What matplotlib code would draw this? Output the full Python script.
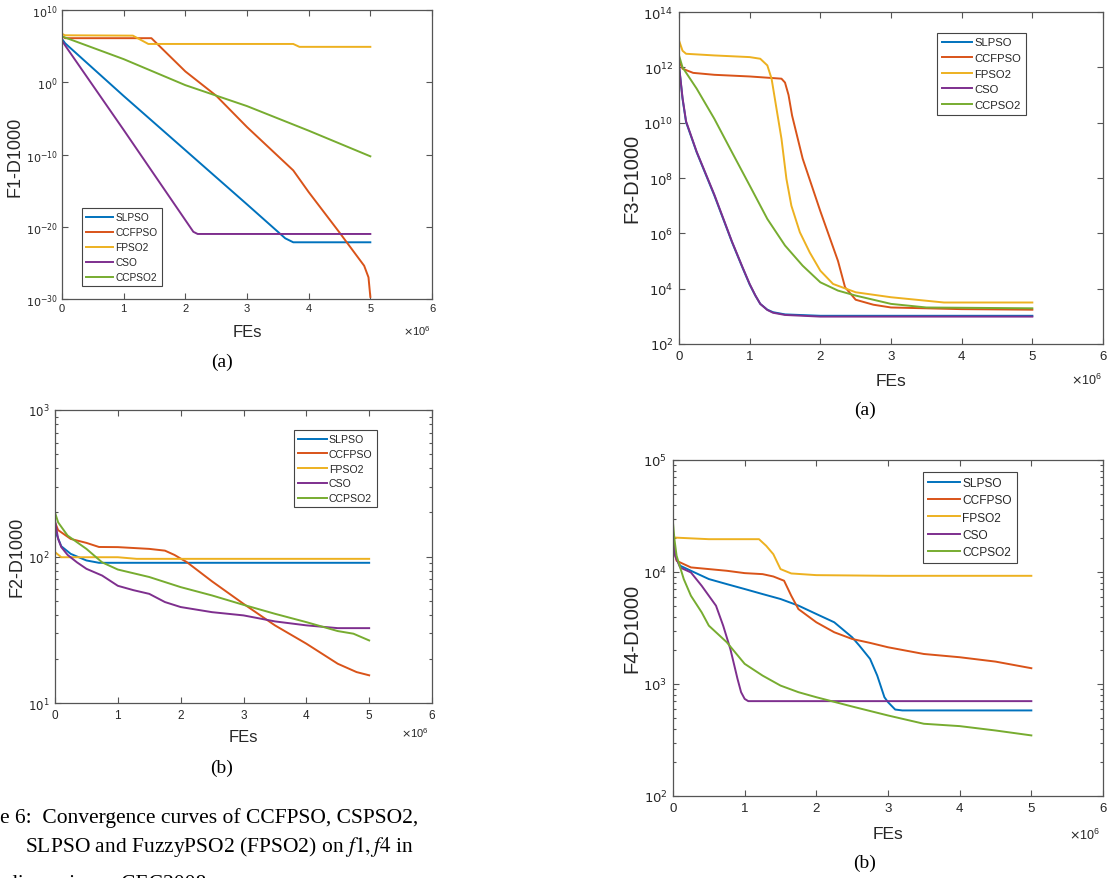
import numpy as np
import matplotlib
matplotlib.use("Agg")
import matplotlib.pyplot as plt
from matplotlib.ticker import LogLocator, NullLocator, FixedLocator

plt.rcParams['font.family'] = ['Liberation Sans', 'DejaVu Sans']

# ---------------- data (x in 1e6 FEs, y as log10 of fitness) ----------------
names = ["SLPSO", "CCFPSO", "FPSO2", "CSO", "CCPSO2"]
colors = ["#0072BD", "#D95319", "#EDB120", "#7E2F8E", "#77AC30"]

# F1
f1_slpso_x = [0, 0.05, 1.0, 2.0, 3.0, 3.62, 3.75, 5.0]
f1_slpso_y = [6.0, 5.4, -1.9, -9.4, -16.9, -21.6, -22.15, -22.15]
f1_ccfpso_x = [0, 0.05, 1.0, 1.45, 2.0, 2.5, 3.0, 3.5, 3.75, 4.0, 4.5, 4.9, 4.97, 5.0]
f1_ccfpso_y = [6.4, 6.1, 6.1, 6.1, 1.5, -1.86, -6.2, -10.2, -12.2, -15.2, -20.8, -25.4, -27.0, -29.7]
f1_fpso2_x = [0, 0.05, 1.15, 1.4, 3.75, 3.85, 5.0]
f1_fpso2_y = [6.7, 6.5, 6.45, 5.3, 5.3, 4.9, 4.9]
f1_cso_x = [0, 0.05, 1.0, 2.13, 2.2, 5.0]
f1_cso_y = [5.75, 5.1, -6.6, -20.7, -21.0, -21.0]
f1_ccpso2_x = [0, 1.0, 2.0, 3.0, 4.0, 5.0]
f1_ccpso2_y = [6.35, 3.2, -0.4, -3.3, -6.7, -10.25]

# F2
f2_slpso_x = [0, 0.1, 0.25, 0.5, 0.7, 5.0]
f2_slpso_y = [2.177, 2.07, 2.018, 1.973, 1.957, 1.957]
f2_ccfpso_x = [0, 0.05, 0.25, 0.5, 0.7, 1.0, 1.5, 1.75, 1.9, 2.1, 2.5, 3.0, 3.5, 4.0, 4.5, 4.8, 5.0]
f2_ccfpso_y = [2.234, 2.18, 2.12, 2.093, 2.065, 2.064, 2.052, 2.04, 2.011, 1.961, 1.83, 1.677, 1.53, 1.405, 1.268, 1.211, 1.189]
f2_fpso2_x = [0, 0.1, 0.5, 1.0, 1.3, 5.0]
f2_fpso2_y = [2.03, 1.995, 1.995, 1.995, 1.984, 1.984]
f2_cso_x = [0, 0.05, 0.1, 0.2, 0.35, 0.5, 0.75, 1.0, 1.25, 1.5, 1.75, 2.0, 2.5, 3.0, 3.5, 4.0, 4.5, 5.0]
f2_cso_y = [2.245, 2.12, 2.064, 2.011, 1.96, 1.916, 1.87, 1.80, 1.77, 1.745, 1.689, 1.655, 1.62, 1.598, 1.557, 1.53, 1.511, 1.511]
f2_ccpso2_x = [0, 0.05, 0.2, 0.5, 0.75, 1.0, 1.5, 2.0, 2.5, 3.0, 3.5, 4.0, 4.5, 4.75, 5.0]
f2_ccpso2_y = [2.30, 2.233, 2.143, 2.052, 1.96, 1.911, 1.86, 1.791, 1.734, 1.67, 1.609, 1.552, 1.491, 1.473, 1.427]

# F3
f3_slpso_x = [0, 0.05, 0.1, 0.25, 0.5, 0.75, 0.9, 1.0, 1.08, 1.15, 1.25, 1.33, 1.5, 2.0, 5.0]
f3_slpso_y = [12.07, 10.86, 10.02, 8.93, 7.37, 5.68, 4.75, 4.15, 3.75, 3.45, 3.24, 3.15, 3.07, 3.02, 3.02]
f3_ccfpso_x = [0, 0.05, 0.2, 0.5, 1.0, 1.45, 1.5, 1.55, 1.6, 1.75, 2.0, 2.25, 2.35, 2.5, 2.75, 3.0, 4.0, 5.0]
f3_ccfpso_y = [12.25, 11.95, 11.8, 11.73, 11.67, 11.59, 11.45, 11.0, 10.26, 8.7, 6.8, 5.0, 4.05, 3.6, 3.42, 3.32, 3.26, 3.24]
f3_fpso2_x = [0, 0.05, 0.1, 0.5, 1.0, 1.15, 1.25, 1.31, 1.38, 1.45, 1.52, 1.59, 1.71, 1.85, 2.0, 2.18, 2.5, 3.0, 3.75, 5.0]
f3_fpso2_y = [12.97, 12.6, 12.49, 12.43, 12.37, 12.31, 12.07, 11.59, 10.5, 9.42, 7.97, 7.0, 6.04, 5.31, 4.65, 4.17, 3.87, 3.69, 3.5, 3.5]
f3_cso_x = [0, 0.05, 0.1, 0.25, 0.5, 0.75, 0.9, 1.0, 1.08, 1.15, 1.25, 1.33, 1.5, 2.0, 5.0]
f3_cso_y = [12.07, 10.9, 10.05, 8.95, 7.4, 5.7, 4.77, 4.17, 3.76, 3.45, 3.23, 3.13, 3.05, 2.99, 2.99]
f3_ccpso2_x = [0, 0.05, 0.25, 0.5, 0.75, 1.0, 1.25, 1.5, 1.75, 2.0, 2.25, 2.5, 3.0, 3.5, 5.0]
f3_ccpso2_y = [12.43, 12.0, 11.23, 10.14, 8.93, 7.73, 6.52, 5.56, 4.83, 4.23, 3.93, 3.75, 3.45, 3.32, 3.29]

# F4
f4_slpso_x = [0, 0.05, 0.1, 0.25, 0.5, 0.75, 1.0, 1.25, 1.5, 1.75, 2.0, 2.25, 2.5, 2.6, 2.75, 2.85, 2.95, 3.0, 3.1, 3.2, 5.0]
f4_slpso_y = [4.293, 4.115, 4.056, 4.011, 3.937, 3.892, 3.848, 3.803, 3.759, 3.70, 3.625, 3.551, 3.417, 3.343, 3.224, 3.075, 2.882, 2.838, 2.772, 2.764, 2.764]
f4_ccfpso_x = [0, 0.05, 0.25, 0.5, 0.75, 1.0, 1.25, 1.4, 1.55, 1.65, 1.75, 2.0, 2.25, 2.5, 2.75, 3.0, 3.5, 4.0, 4.5, 5.0]
f4_ccfpso_y = [4.234, 4.10, 4.041, 4.026, 4.011, 3.99, 3.981, 3.96, 3.922, 3.788, 3.669, 3.551, 3.462, 3.402, 3.367, 3.328, 3.268, 3.239, 3.20, 3.141]
f4_fpso2_x = [0, 0.5, 1.2, 1.3, 1.4, 1.5, 1.65, 2.0, 3.0, 5.0]
f4_fpso2_y = [4.308, 4.293, 4.293, 4.234, 4.159, 4.026, 3.987, 3.972, 3.966, 3.966]
f4_cso_x = [0, 0.03, 0.1, 0.25, 0.4, 0.5, 0.6, 0.7, 0.8, 0.85, 0.9, 0.95, 1.0, 1.05, 5.0]
f4_cso_y = [4.32, 4.145, 4.04, 3.996, 3.877, 3.788, 3.699, 3.521, 3.313, 3.18, 3.046, 2.927, 2.867, 2.847, 2.847]
f4_ccpso2_x = [0, 0.02, 0.05, 0.15, 0.25, 0.4, 0.5, 0.75, 1.0, 1.25, 1.5, 1.75, 2.0, 2.5, 3.0, 3.5, 4.0, 4.5, 5.0]
f4_ccpso2_y = [4.44, 4.293, 4.145, 3.937, 3.788, 3.64, 3.521, 3.373, 3.18, 3.075, 2.986, 2.927, 2.882, 2.799, 2.719, 2.645, 2.624, 2.585, 2.541]

# ---------------- layout helpers ----------------
W, H = 1109, 879
fig = plt.figure(figsize=(W / 100, H / 100), dpi=100)
fig.patch.set_facecolor("white")


def fx(px):
    return px / W


def fy(py):
    return 1 - py / H


def make_axes(left, top, right, bottom):
    return fig.add_axes([fx(left), fy(bottom), (right - left) / W, (bottom - top) / H])


axcol = "#555555"
tickcol = "#262626"


def style(ax, ylo, yhi, yticks, minor, fs, pad=4):
    ax.set_yscale("log")
    ax.set_xlim(0, 6)
    ax.set_ylim(10.0 ** ylo, 10.0 ** yhi)
    ax.xaxis.set_major_locator(FixedLocator([0, 1, 2, 3, 4, 5, 6]))
    ax.yaxis.set_major_locator(FixedLocator([10.0 ** t for t in yticks]))
    if minor:
        ax.yaxis.set_minor_locator(LogLocator(base=10, subs=np.arange(2, 10)))
    else:
        ax.yaxis.set_minor_locator(NullLocator())
    ax.yaxis.set_minor_formatter(matplotlib.ticker.NullFormatter())
    ax.set_xticklabels([str(i) for i in range(7)])
    ax.set_yticklabels([r"$10^{%d}$" % t for t in yticks])
    ax.tick_params(which="both", direction="in", top=True, right=True,
                   colors=axcol, labelcolor=tickcol, labelsize=fs, width=0.8)
    ax.tick_params(which="major", length=4.5, pad=pad)
    ax.tick_params(which="minor", length=2.5)
    for s in ax.spines.values():
        s.set_color(axcol)
        s.set_linewidth(0.9)


def draw(ax, series):
    for (x, y), c, n in zip(series, colors, names):
        ax.plot(x, 10.0 ** np.array(y), color=c, lw=1.4, label=n)


def legend(ax, left, top, fs, spacing):
    leg = ax.legend(loc="upper left", bbox_to_anchor=(fx(left), fy(top)),
                    bbox_transform=fig.transFigure, borderaxespad=0,
                    fancybox=False, framealpha=1, edgecolor="#444444",
                    fontsize=fs, handlelength=2.7, handletextpad=0.2,
                    labelspacing=spacing, borderpad=0.4)
    leg.get_frame().set_linewidth(0.8)
    for t in leg.get_texts():
        t.set_color(tickcol)


def labels(ylab, ylx, yly, yfs, fesx, fesy, fesfs, mx, my, mfs, cap, cx, cy, cfs):
    fig.text(fx(ylx), fy(yly), ylab, rotation=90, ha="center", va="center",
             fontsize=yfs, color=tickcol)
    fig.text(fx(fesx), fy(fesy), "FEs", ha="center", va="center",
             fontsize=fesfs, color=tickcol)
    fig.text(fx(mx), fy(my), r"$\times\mathdefault{10^{6}}$", ha="center", va="center",
             fontsize=mfs, color=tickcol)
    fig.text(fx(cx), fy(cy), cap, ha="center", va="center", fontsize=cfs,
             family="Liberation Serif", color="black")


# ---- F1 ----
ax1 = make_axes(62, 11, 432, 300)
draw(ax1, [(f1_slpso_x, f1_slpso_y), (f1_ccfpso_x, f1_ccfpso_y), (f1_fpso2_x, f1_fpso2_y),
           (f1_cso_x, f1_cso_y), (f1_ccpso2_x, f1_ccpso2_y)])
style(ax1, -30, 10, [-30, -20, -10, 0, 10], False, 8, pad=3)
legend(ax1, 82, 209, 7.3, 0.5)
labels("F1-D1000", 15, 157, 13, 247, 333, 12, 417, 331, 8, "(a)", 222, 362, 14)

# ---- F2 ----
ax2 = make_axes(55, 411, 432, 704)
draw(ax2, [(f2_slpso_x, f2_slpso_y), (f2_ccfpso_x, f2_ccfpso_y), (f2_fpso2_x, f2_fpso2_y),
           (f2_cso_x, f2_cso_y), (f2_ccpso2_x, f2_ccpso2_y)])
style(ax2, 1, 3, [1, 2, 3], True, 8.5)
legend(ax2, 294, 431, 7.6, 0.45)
labels("F2-D1000", 17, 557, 13, 243, 738, 12, 415, 733, 8, "(b)", 222, 768, 14)

# ---- F3 ----
ax3 = make_axes(679, 13, 1103, 345)
draw(ax3, [(f3_slpso_x, f3_slpso_y), (f3_ccfpso_x, f3_ccfpso_y), (f3_fpso2_x, f3_fpso2_y),
           (f3_cso_x, f3_cso_y), (f3_ccpso2_x, f3_ccpso2_y)])
style(ax3, 2, 14, [2, 4, 6, 8, 10, 12, 14], False, 9.5)
legend(ax3, 937, 34, 8.1, 0.5)
labels("F3-D1000", 632, 178, 14.5, 891, 382, 12.5, 1087, 380, 9, "(a)", 865, 410, 14)

# ---- F4 ----
ax4 = make_axes(673, 461, 1103, 797)
draw(ax4, [(f4_slpso_x, f4_slpso_y), (f4_ccfpso_x, f4_ccfpso_y), (f4_fpso2_x, f4_fpso2_y),
           (f4_cso_x, f4_cso_y), (f4_ccpso2_x, f4_ccpso2_y)])
style(ax4, 2, 5, [2, 3, 4, 5], True, 9.5)
legend(ax4, 923, 473, 8.6, 0.45)
labels("F4-D1000", 632, 628, 14.5, 888, 835, 12.5, 1085, 835, 9, "(b)", 865, 863, 14)

# ---- partial figure caption (cropped in the reference) ----
capfs = 15.5
fig.text(fx(0), fy(823), "e 6:  Convergence curves of CCFPSO, CSPSO2,", ha="left",
         va="baseline", fontsize=capfs, family="Liberation Serif")
fig.text(fx(25), fy(852), r"SLPSO and FuzzyPSO2 (FPSO2) on $f1, f4$ in", ha="left",
         va="baseline", fontsize=capfs, family="Liberation Serif", math_fontfamily="stix")
fig.text(fx(7), fy(875), "dimensions,  CEC2008", ha="left", va="top",
         fontsize=capfs, family="Liberation Serif")

fig.savefig("out.png", dpi=100)
